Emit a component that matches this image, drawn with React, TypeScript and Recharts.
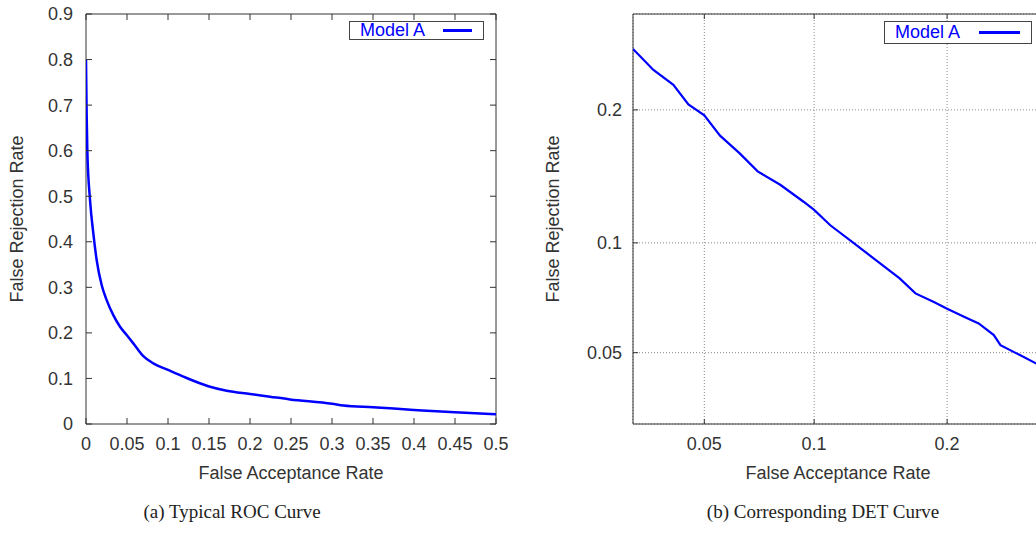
import React from "react";
import { CartesianGrid, Legend, Line, LineChart, ReferenceArea, XAxis, YAxis } from "recharts";

// ROC curve (false acceptance rate vs false rejection rate)
const rocFar = [
  0, 0.0008, 0.0016, 0.0049, 0.0089, 0.013, 0.0191, 0.0252, 0.0333, 0.0415,
  0.0496, 0.0577, 0.0699, 0.0821, 0.0984, 0.1187, 0.1492, 0.1716, 0.2,
  0.2244, 0.2488, 0.3, 0.314, 0.35, 0.4, 0.45, 0.5,
];
const rocFrr = [
  0.8, 0.68, 0.601, 0.492, 0.419, 0.36, 0.305, 0.272, 0.239, 0.2136,
  0.1953, 0.177, 0.149, 0.133, 0.12, 0.104, 0.083, 0.073, 0.066,
  0.06, 0.054, 0.0445, 0.0405, 0.0366, 0.031, 0.0256, 0.0212,
];

// same model drawn as a DET curve (normal deviate axes)
const detFar = [
  0.03, 0.0349, 0.0403, 0.0448, 0.05, 0.0556, 0.0634, 0.071, 0.0817, 0.094,
  0.1, 0.1097, 0.125, 0.139, 0.159, 0.172, 0.188, 0.2, 0.216, 0.2305, 0.246,
  0.253, 0.2745, 0.2924, 0.3,
];
const detFrr = [
  0.261, 0.239, 0.224, 0.205, 0.195, 0.177, 0.162, 0.148, 0.138, 0.126,
  0.1205, 0.1106, 0.0998, 0.0913, 0.0809, 0.0737, 0.0698, 0.0669, 0.0635,
  0.0608, 0.0563, 0.0526, 0.0491, 0.0464, 0.0455,
];

const rocXTicks = [0, 0.05, 0.1, 0.15, 0.2, 0.25, 0.3, 0.35, 0.4, 0.45, 0.5];
const rocYTicks = [0, 0.1, 0.2, 0.3, 0.4, 0.5, 0.6, 0.7, 0.8, 0.9];
const detTicks = [0.05, 0.1, 0.2];
const detRange = [0.03, 0.3];

const seriesName = "Model A";
const xTitle = "False Acceptance Rate";
const yTitle = "False Rejection Rate";
const captions = ["(a) Typical ROC Curve", "(b) Corresponding DET Curve"];

const AXIS = "#333";
const BLUE = "#0000ff";
const FONT = "'Liberation Sans', Arial, sans-serif";

// inverse normal CDF (Acklam)
function probit(p: number) {
  const a = [-39.69683028665376, 220.9460984245205, -275.9285104469687, 138.357751867269, -30.66479806614716, 2.506628277459239];
  const b = [-54.47609879822406, 161.5858368580409, -155.6989798598866, 66.80131188771972, -13.28068155288572];
  const c = [-0.007784894002430293, -0.3223964580411365, -2.400758277161838, -2.549732539343734, 4.374664141464968, 2.938163982698783];
  const d = [0.007784695709041462, 0.3224671290700398, 2.445134137142996, 3.754408661907416];
  const lo = 0.02425;
  if (p < lo) {
    const q = Math.sqrt(-2 * Math.log(p));
    return (((((c[0] * q + c[1]) * q + c[2]) * q + c[3]) * q + c[4]) * q + c[5]) /
      ((((d[0] * q + d[1]) * q + d[2]) * q + d[3]) * q + 1);
  }
  if (p <= 1 - lo) {
    const q = p - 0.5;
    const r = q * q;
    return ((((((a[0] * r + a[1]) * r + a[2]) * r + a[3]) * r + a[4]) * r + a[5]) * q) /
      (((((b[0] * r + b[1]) * r + b[2]) * r + b[3]) * r + b[4]) * r + 1);
  }
  const q = Math.sqrt(-2 * Math.log(1 - p));
  return -(((((c[0] * q + c[1]) * q + c[2]) * q + c[3]) * q + c[4]) * q + c[5]) /
    ((((d[0] * q + d[1]) * q + d[2]) * q + d[3]) * q + 1);
}

const rocData = rocFar.map((far, i) => ({ far, frr: rocFrr[i] }));
const detData = detFar.map((far, i) => ({ far: probit(far), frr: probit(detFrr[i]) }));
const detDomain = [probit(detRange[0]), probit(detRange[1])];
const detTickPos = detTicks.map(probit);

const fmt = (v: number) => String(Number(v.toFixed(2)));

type Side = "bottom" | "top" | "left" | "right";

// gnuplot style: tick marks point into the plot, labels outside
function makeTick(side: Side, labels: string[] | null, gap = 13, len = 6) {
  return (props: any) => {
    const x = Number(props.x);
    const y = Number(props.y);
    const label = labels ? labels[props.index] : null;
    const textStyle = { fontSize: 18, fill: AXIS, fontFamily: FONT };
    if (side === "bottom" || side === "top") {
      const dir = side === "bottom" ? -1 : 1;
      return (
        <g>
          <path d={`M${x},${y}V${y + dir * len}`} stroke={AXIS} strokeWidth={1} fill="none" />
          {label != null && (
            <text x={x} y={y + gap} dy="0.71em" textAnchor="middle" style={textStyle}>
              {label}
            </text>
          )}
        </g>
      );
    }
    const dir = side === "left" ? 1 : -1;
    return (
      <g>
        <path d={`M${x},${y}H${x + dir * len}`} stroke={AXIS} strokeWidth={1} fill="none" />
        {label != null && (
          <text x={x - gap} y={y} dy="0.355em" textAnchor="end" style={textStyle}>
            {label}
          </text>
        )}
      </g>
    );
  };
}

function makeLegend(w: number, h: number, textLeft: number, lineLeft: number, lineW: number) {
  return (props: any) => {
    const name = props.payload && props.payload[0] ? props.payload[0].value : seriesName;
    return (
      <div
        style={{
          position: "relative",
          width: w,
          height: h,
          boxSizing: "border-box",
          border: "1px solid #444",
          background: "#fff",
        }}
      >
        <span
          style={{
            position: "absolute",
            left: textLeft,
            top: 0,
            lineHeight: `${h - 2}px`,
            fontSize: 18,
            fontFamily: FONT,
            color: BLUE,
            whiteSpace: "nowrap",
          }}
        >
          {name}
        </span>
        <span
          style={{
            position: "absolute",
            left: lineLeft,
            top: (h - 2) / 2 - 1.25,
            width: lineW,
            height: 2.5,
            background: BLUE,
          }}
        />
      </div>
    );
  };
}

// mirror axes get 1px so recharts still draws them
const margin = { top: 13, right: 23, bottom: 0, left: 0 };

function RocChart() {
  const labelsX = rocXTicks.map(fmt);
  const labelsY = rocYTicks.map(fmt);
  return (
    <LineChart width={520} height={490} data={rocData} margin={margin}>
      <XAxis
        xAxisId="b"
        type="number"
        dataKey="far"
        domain={[0, 0.5]}
        ticks={rocXTicks}
        allowDataOverflow
        height={66}
        tickSize={0}
        tickMargin={0}
        tickLine={false}
        axisLine={false}
        tick={makeTick("bottom", labelsX)}
        interval={0}
        label={{ value: xTitle, position: "insideBottom", offset: 11, fill: AXIS, fontSize: 18, fontFamily: FONT }}
      />
      <XAxis
        xAxisId="t"
        orientation="top"
        type="number"
        dataKey="far"
        domain={[0, 0.5]}
        ticks={rocXTicks}
        allowDataOverflow
        height={1}
        tickSize={0}
        tickMargin={0}
        tickLine={false}
        axisLine={false}
        tick={makeTick("top", null)}
        interval={0}
      />
      <YAxis
        yAxisId="l"
        type="number"
        domain={[0, 0.9]}
        ticks={rocYTicks}
        allowDataOverflow
        width={86}
        tickSize={0}
        tickMargin={0}
        tickLine={false}
        axisLine={false}
        tick={makeTick("left", labelsY)}
        interval={0}
        label={{
          value: yTitle,
          angle: -90,
          position: "insideLeft",
          offset: 17,
          fill: AXIS,
          fontSize: 18,
          fontFamily: FONT,
          style: { textAnchor: "middle" },
        }}
      />
      <YAxis
        yAxisId="r"
        orientation="right"
        type="number"
        domain={[0, 0.9]}
        ticks={rocYTicks}
        allowDataOverflow
        width={1}
        tickSize={0}
        tickMargin={0}
        tickLine={false}
        axisLine={false}
        tick={makeTick("right", null)}
        interval={0}
      />
      <ReferenceArea
        xAxisId="b"
        yAxisId="l"
        x1={0}
        x2={0.5}
        y1={0}
        y2={0.9}
        fill="none"
        fillOpacity={0}
        stroke={AXIS}
        strokeWidth={1}
        ifOverflow="visible"
      />
      <Legend
        layout="vertical"
        align="center"
        verticalAlign="middle"
        wrapperStyle={{ left: 349, top: 21, width: "auto" }}
        content={makeLegend(135, 19, 10, 93, 29)}
      />
      <Line
        xAxisId="b"
        yAxisId="l"
        name={seriesName}
        type="monotone"
        dataKey="frr"
        stroke={BLUE}
        strokeWidth={2.5}
        dot={false}
        activeDot={false}
        isAnimationActive={false}
      />
    </LineChart>
  );
}

function DetChart() {
  const labels = detTicks.map(fmt);
  return (
    <LineChart width={547} height={490} data={detData} margin={margin}>
      <CartesianGrid
        xAxisId="b"
        yAxisId="l"
        stroke="#8a8a8a"
        strokeDasharray="1 2"
      />
      <XAxis
        xAxisId="b"
        type="number"
        dataKey="far"
        domain={detDomain}
        ticks={detTickPos}
        allowDataOverflow
        height={66}
        tickSize={0}
        tickMargin={0}
        tickLine={false}
        axisLine={false}
        tick={makeTick("bottom", labels, 13, 5)}
        interval={0}
        label={{ value: xTitle, position: "insideBottom", offset: 11, fill: AXIS, fontSize: 18, fontFamily: FONT }}
      />
      <XAxis
        xAxisId="t"
        orientation="top"
        type="number"
        dataKey="far"
        domain={detDomain}
        ticks={detTickPos}
        allowDataOverflow
        height={1}
        tickSize={0}
        tickMargin={0}
        tickLine={false}
        axisLine={false}
        tick={makeTick("top", null, 13, 5)}
        interval={0}
      />
      <YAxis
        yAxisId="l"
        type="number"
        domain={detDomain}
        ticks={detTickPos}
        allowDataOverflow
        width={113}
        tickSize={0}
        tickMargin={0}
        tickLine={false}
        axisLine={false}
        tick={makeTick("left", labels, 11, 5)}
        interval={0}
        label={{
          value: yTitle,
          angle: -90,
          position: "insideLeft",
          offset: 33,
          fill: AXIS,
          fontSize: 18,
          fontFamily: FONT,
          style: { textAnchor: "middle" },
        }}
      />
      <YAxis
        yAxisId="r"
        orientation="right"
        type="number"
        domain={detDomain}
        ticks={detTickPos}
        allowDataOverflow
        width={1}
        tickSize={0}
        tickMargin={0}
        tickLine={false}
        axisLine={false}
        tick={makeTick("right", null, 11, 5)}
        interval={0}
      />
      <ReferenceArea
        xAxisId="b"
        yAxisId="l"
        x1={detDomain[0]}
        x2={detDomain[1]}
        y1={detDomain[0]}
        y2={detDomain[1]}
        fill="none"
        fillOpacity={0}
        stroke={AXIS}
        strokeWidth={1}
        ifOverflow="visible"
      />
      <Legend
        layout="vertical"
        align="center"
        verticalAlign="middle"
        wrapperStyle={{ left: 364, top: 21, width: "auto" }}
        content={makeLegend(148, 23, 10, 94, 41)}
      />
      <Line
        xAxisId="b"
        yAxisId="l"
        name={seriesName}
        type="linear"
        dataKey="frr"
        stroke={BLUE}
        strokeWidth={2.2}
        dot={false}
        activeDot={false}
        isAnimationActive={false}
      />
    </LineChart>
  );
}

export default function App() {
  const captionStyle: React.CSSProperties = {
    position: "absolute",
    top: 501,
    width: 400,
    textAlign: "center",
    fontFamily: "'Liberation Serif', 'Times New Roman', serif",
    fontSize: 19,
    lineHeight: "22px",
    color: "#222",
    whiteSpace: "nowrap",
  };
  return (
    <div
      style={{
        position: "fixed",
        left: 0,
        top: 0,
        width: 1036,
        height: 546,
        overflow: "hidden",
        background: "#fff",
      }}
    >
      <div style={{ position: "absolute", left: 0, top: 0 }}>
        <RocChart />
      </div>
      <div style={{ position: "absolute", left: 520, top: 0 }}>
        <DetChart />
      </div>
      <div style={{ ...captionStyle, left: 232 - 200 }}>{captions[0]}</div>
      <div style={{ ...captionStyle, left: 823 - 200 }}>{captions[1]}</div>
    </div>
  );
}
